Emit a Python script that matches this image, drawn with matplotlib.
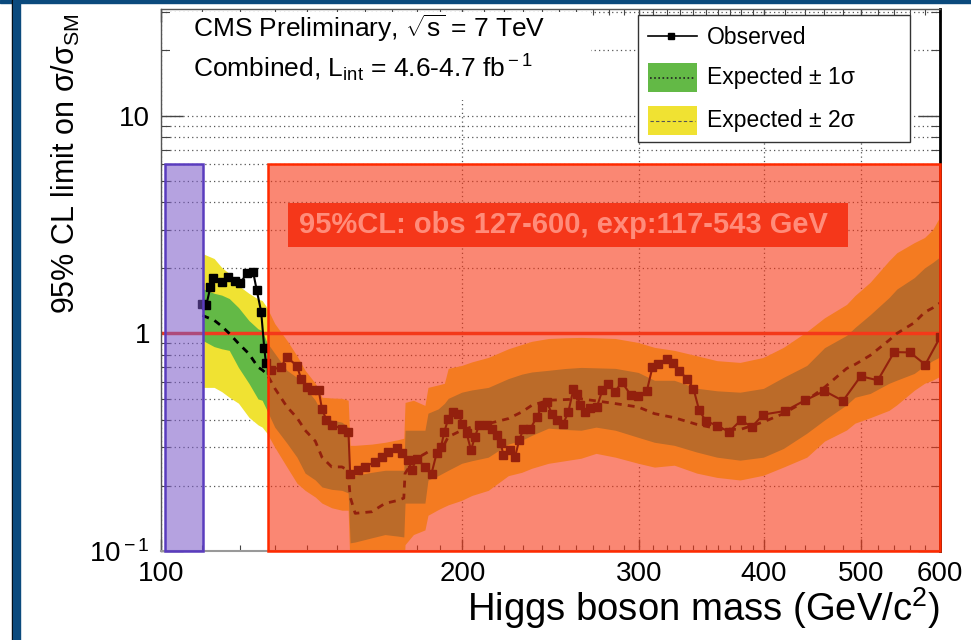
import matplotlib
matplotlib.use("Agg")
import matplotlib.pyplot as plt
from matplotlib.patches import Rectangle
from matplotlib.lines import Line2D
from matplotlib.ticker import FixedLocator, NullFormatter

plt.rcParams['font.family'] = ['Liberation Sans', 'DejaVu Sans']
plt.rcParams['mathtext.fontset'] = 'custom'
plt.rcParams['mathtext.rm'] = 'Liberation Sans'
plt.rcParams['mathtext.it'] = 'Liberation Sans:italic'
plt.rcParams['mathtext.bf'] = 'Liberation Sans:bold'

# observed 95% CL upper limit on sigma/sigma_SM
obs_mass = [110, 111, 112, 112.6, 115, 116.7, 118.5, 120, 121.8, 123.6, 124.6, 125.9,
            126.8, 127.3, 128.8, 131.8, 133.5, 136.7, 138, 139.9, 141.5, 143.7, 144.8,
            146.3, 148.1, 151.6, 153.9, 154.5, 157.4, 160, 163.6, 166.2, 168.7, 172,
            174, 176.6, 178, 180, 183.5, 186.3, 188.5, 190.4, 191.9, 193.6, 195.9, 198.1,
            200, 202, 204, 205.9, 207.8, 211.5, 214, 216.5, 218.5, 219.8, 223.2, 225.8,
            227.9, 230.1, 233.7, 237.3, 240.1, 242.9, 245.7, 248.5, 252.3, 255.2, 258.2,
            260.2, 262.2, 265.2, 268.3, 272.5, 276, 279.9, 284.1, 288.6, 294.8, 299.8,
            305.7, 309.7, 314, 320.1, 325, 329.5, 335.2, 340.3, 344.8, 350.2, 359.6,
            369.4, 379.4, 389.2, 399.7, 420, 440, 460, 480, 500, 520, 540, 560, 580, 600]
obs_limit = [1.37, 1.35, 1.63, 1.79, 1.73, 1.81, 1.75, 1.70, 1.89, 1.92, 1.59, 1.26,
             0.86, 0.73, 0.68, 0.70, 0.78, 0.71, 0.62, 0.57, 0.55, 0.55, 0.45,
             0.40, 0.38, 0.365, 0.353, 0.227, 0.235, 0.244, 0.257, 0.271, 0.286, 0.296,
             0.281, 0.262, 0.235, 0.266, 0.244, 0.227, 0.281, 0.301, 0.353, 0.406, 0.436, 0.428,
             0.385, 0.347, 0.291, 0.335, 0.378, 0.378, 0.365, 0.340, 0.312, 0.276, 0.291, 0.271,
             0.323, 0.362, 0.362, 0.413, 0.459, 0.484, 0.428, 0.399, 0.385, 0.436, 0.553,
             0.525, 0.467, 0.436, 0.452, 0.459, 0.548, 0.584, 0.538, 0.598, 0.519, 0.514,
             0.544, 0.700, 0.726, 0.766, 0.731, 0.671, 0.620, 0.558, 0.443, 0.396, 0.376,
             0.353, 0.399, 0.372, 0.424, 0.440, 0.493, 0.544, 0.490, 0.636, 0.609, 0.821,
             0.818, 0.719, 0.959]

# expected limit with 1 and 2 sigma bands
exp_mass = [110, 113, 115, 117, 119.5, 122.4, 125, 126.2, 127.6, 129.9, 133.6, 136.7,
            139.3, 142.6, 144.8, 148.1, 151.6, 153.8, 154.5, 156.3, 162.4, 167.4, 172.6,
            174.8, 175.3, 178.7, 183.5, 184.8, 189.2, 191.9, 193.6, 199.7, 204.4, 212.3,
            222.3, 229.3, 234.6, 243.8, 253.3, 262.8, 272, 284.3, 299.7, 311.1, 325.6,
            342.9, 359.1, 378.8, 399.7, 418.5, 441.7, 460, 484, 493.4, 511, 533.6, 543.3,
            565.5, 579, 590, 600]
exp_median = [1.21, 1.15, 1.08, 1.00, 0.90, 0.807, 0.70, 0.68, 0.65, 0.56, 0.46, 0.41,
              0.359, 0.32, 0.27, 0.2435, 0.2435, 0.235, 0.1775, 0.149, 0.1515, 0.1655, 0.171,
              0.175, 0.227, 0.2615, 0.28, 0.2855, 0.2905, 0.31, 0.3345, 0.359, 0.372, 0.385,
              0.406, 0.4355, 0.467, 0.493, 0.4965, 0.50, 0.49, 0.476, 0.459, 0.428, 0.41,
              0.382, 0.3655, 0.3616, 0.392, 0.428, 0.493, 0.565, 0.69, 0.72, 0.793, 0.93, 1.0,
              1.12, 1.25, 1.31, 1.38]
exp_lo1 = [0.93, 0.87, 0.85, 0.836, 0.698, 0.59, 0.50, 0.493, 0.443, 0.371, 0.313, 0.27,
           0.228, 0.212, 0.197, 0.192, 0.19, 0.185, 0.109, 0.11, 0.115, 0.119, 0.117,
           0.116, 0.166, 0.166, 0.166, 0.212, 0.222, 0.23, 0.235, 0.253, 0.26, 0.27,
           0.31, 0.323, 0.34, 0.367, 0.362, 0.359, 0.371, 0.359, 0.333, 0.316, 0.306,
           0.285, 0.27, 0.2615, 0.27, 0.296, 0.348, 0.40, 0.47, 0.509, 0.53, 0.59, 0.61,
           0.655, 0.71, 0.75, 0.78]
exp_hi1 = [1.61, 1.53, 1.50, 1.447, 1.316, 1.147, 1.05, 1.03, 0.909, 0.81, 0.677, 0.628,
           0.565, 0.493, 0.43, 0.40, 0.391, 0.371, 0.223, 0.223, 0.23, 0.235, 0.235,
           0.235, 0.359, 0.359, 0.359, 0.43, 0.45, 0.477, 0.503, 0.537, 0.55, 0.565,
           0.62, 0.65, 0.665, 0.677, 0.69, 0.698, 0.695, 0.691, 0.662, 0.609, 0.609,
           0.56, 0.545, 0.537, 0.559, 0.628, 0.713, 0.86, 0.98, 1.065, 1.22, 1.462, 1.6,
           1.806, 2.0, 2.12, 2.25]
exp_lo2 = [0.565, 0.565, 0.54, 0.509, 0.478, 0.412, 0.38, 0.371, 0.348, 0.30, 0.243, 0.205,
           0.19, 0.177, 0.166, 0.158, 0.154, 0.154, 0.08, 0.08, 0.08, 0.08, 0.08,
           0.08, 0.107, 0.119, 0.125, 0.146, 0.155, 0.16, 0.163, 0.171, 0.18, 0.19,
           0.222, 0.23, 0.24, 0.253, 0.26, 0.267, 0.281, 0.27, 0.253, 0.243, 0.248,
           0.228, 0.218, 0.212, 0.223, 0.243, 0.27, 0.32, 0.36, 0.387, 0.41, 0.443, 0.47,
           0.548, 0.59, 0.61, 0.635]
exp_hi2 = [2.33, 2.21, 2.01, 1.885, 1.66, 1.53, 1.44, 1.417, 1.316, 1.11, 0.929, 0.79,
           0.677, 0.59, 0.509, 0.505, 0.503, 0.493, 0.306, 0.306, 0.31, 0.316, 0.325,
           0.33, 0.482, 0.493, 0.467, 0.565, 0.58, 0.59, 0.691, 0.713, 0.74, 0.776,
           0.85, 0.89, 0.92, 0.948, 0.955, 0.959, 0.955, 0.948, 0.909, 0.863, 0.836,
           0.79, 0.75, 0.736, 0.776, 0.863, 1.02, 1.18, 1.36, 1.494, 1.72, 2.16, 2.35,
           2.615, 2.76, 3.0, 3.45]

# excluded mass ranges drawn as boxes
low_box = [100.9, 110.1]
excl_box = [127.8, 600]
box_top = 6.0

x_ticks = [100, 200, 300, 400, 500, 600]
x_minor = list(range(110, 200, 10)) + list(range(210, 300, 10)) + \
    list(range(310, 400, 10)) + list(range(420, 500, 20)) + list(range(520, 600, 20))
y_minor = [0.2, 0.3, 0.4, 0.5, 0.6, 0.7, 0.8, 0.9, 2, 3, 4, 5, 6, 7, 8, 9, 20, 30]

fig = plt.figure(figsize=(9.71, 6.40), dpi=100)
fig.patch.set_facecolor('white')
ax = fig.add_axes([161 / 971, 1 - 551 / 640, 779 / 971, 542 / 640])
ax.set_xscale('log')
ax.set_yscale('log')
ax.set_xlim(100, 600)
ax.set_ylim(0.1, 31)

# slide frame
fig.patches.append(Rectangle((0, 1 - 3 / 640), 1, 3 / 640, transform=fig.transFigure,
                             color='#0b4a7d', zorder=0))
fig.patches.append(Rectangle((11.5 / 971, 0), 1.5 / 971, 1, transform=fig.transFigure,
                             color='black', zorder=0))
fig.patches.append(Rectangle((13 / 971, 0), 7 / 971, 1, transform=fig.transFigure,
                             color='#0b4a7d', zorder=0))

# bands
ax.fill_between(exp_mass, exp_lo2, exp_hi2, color='#f0e232', lw=0, zorder=1)
ax.fill_between(exp_mass, exp_lo1, exp_hi1, color='#63b946', lw=0, zorder=1.1)
ax.axhline(1, color='#f03c1e', lw=2.5, zorder=2)
ax.plot(exp_mass, exp_median, color='black', lw=2.0, ls=(0, (2.5, 2.2)), zorder=3)
ax.plot(obs_mass, obs_limit, color='black', lw=1.5, marker='s', ms=5.5, zorder=4)

# shaded mass ranges
ax.add_patch(Rectangle((low_box[0], 0.1), low_box[1] - low_box[0], box_top - 0.1,
                       facecolor=(0.47, 0.34, 0.78), alpha=0.55, lw=0, zorder=5))
ax.add_patch(Rectangle((low_box[0], 0.1), low_box[1] - low_box[0], box_top - 0.1,
                       fill=False, edgecolor='#5a3cbe', lw=1.8, zorder=5.1, clip_on=False))
ax.add_patch(Rectangle((excl_box[0], 0.1), excl_box[1] - excl_box[0], box_top - 0.1,
                       facecolor=(0.97, 0.215, 0.085), alpha=0.6, lw=0, zorder=6))
ax.add_patch(Rectangle((excl_box[0], 0.1), excl_box[1] - excl_box[0], box_top - 0.1,
                       fill=False, edgecolor='#ff2a00', lw=1.8, zorder=6.1, clip_on=False))

ax.add_patch(Rectangle((0.163, 0.561), 0.719, 0.081, transform=ax.transAxes,
                       facecolor='#f5371a', lw=0, zorder=7))
ax.text(0.5165, 0.6015, '95%CL: obs 127-600, exp:117-543 GeV', transform=ax.transAxes,
        ha='center', va='center', fontsize=21, fontweight='bold', color='#ff8c7a', zorder=7.1)

# grid and axes
ax.set_axisbelow(True)
ax.xaxis.grid(True, which='major', color='#555555', lw=0.9, ls=(0, (1, 2.5)))
ax.yaxis.grid(True, which='both', color='#555555', lw=0.9, ls=(0, (1, 2.5)))

ax.xaxis.set_major_locator(FixedLocator(x_ticks))
ax.xaxis.set_minor_locator(FixedLocator(x_minor))
ax.xaxis.set_minor_formatter(NullFormatter())
ax.set_xticklabels([str(t) for t in x_ticks])
ax.yaxis.set_major_locator(FixedLocator([0.1, 1, 10]))
ax.yaxis.set_minor_locator(FixedLocator(y_minor))
ax.yaxis.set_minor_formatter(NullFormatter())
ax.set_yticklabels(['10$^{\\rm -1}$', '1', '10'])

ax.tick_params(axis='both', which='both', direction='in', top=True, right=True,
               colors='#444444', labelcolor='black', labelsize=20)
ax.tick_params(axis='x', which='major', length=9, width=1, pad=7)
ax.tick_params(axis='x', which='minor', length=4.5, width=0.8)
ax.tick_params(axis='y', which='major', length=16, width=1, pad=8)
ax.tick_params(axis='y', which='minor', length=6.5, width=0.8)

for side in ['left', 'top']:
    ax.spines[side].set_color('#555555')
    ax.spines[side].set_linewidth(1.0)
ax.spines['bottom'].set_color('#999999')
ax.spines['bottom'].set_linewidth(1.5)
ax.spines['right'].set_color('black')
ax.spines['right'].set_linewidth(2.0)

fig.text(940 / 971, 1 - 621 / 640, 'Higgs boson mass (GeV/c$^{2}$)', ha='right',
         va='baseline', fontsize=27.5)
fig.text(66 / 971, 1 - 314 / 640, '95% CL limit on σ/σ$_{\\rm SM}$', rotation=90,
         ha='center', va='bottom', fontsize=22)

# header text on a white pave
ax.add_patch(Rectangle((0.0116, 0.832), 0.54, 0.162, transform=ax.transAxes,
                       facecolor='white', lw=0, zorder=8))
ax.text(0.041, 0.948, 'CMS Preliminary, $\\sqrt{\\rm s}$ = 7 TeV', transform=ax.transAxes,
        ha='left', va='baseline', fontsize=19, zorder=8.1)
ax.text(0.041, 0.8745, 'Combined, L$_{\\rm int}$ = 4.6-4.7 fb$^{\\rm -1}$',
        transform=ax.transAxes, ha='left', va='baseline', fontsize=19, zorder=8.1)

# legend box
ax.add_patch(Rectangle((0.612, 0.7546), 0.3495, 0.2344, transform=ax.transAxes,
                       facecolor='white', edgecolor='#333333', lw=1.0, zorder=9))
ax.add_line(Line2D([0.625, 0.688], [0.950, 0.950], transform=ax.transAxes, color='black',
                   lw=1.2, zorder=9.1))
ax.add_line(Line2D([0.6547], [0.950], transform=ax.transAxes, color='black', marker='s',
                   ms=5, zorder=9.2))
ax.add_patch(Rectangle((0.625, 0.847), 0.063, 0.053, transform=ax.transAxes,
                       facecolor='#63b946', lw=0, zorder=9.1))
ax.add_line(Line2D([0.628, 0.686], [0.8735, 0.8735], transform=ax.transAxes, color='#222222',
                   lw=1.2, ls=(0, (1, 1.5)), zorder=9.2))
ax.add_patch(Rectangle((0.625, 0.7675), 0.063, 0.0535, transform=ax.transAxes,
                       facecolor='#f0e232', lw=0, zorder=9.1))
ax.add_line(Line2D([0.628, 0.686], [0.794, 0.794], transform=ax.transAxes, color='#555555',
                   lw=0.8, ls=(0, (3, 2)), zorder=9.2))
for ytxt, label in [(0.9465, 'Observed'), (0.8745, 'Expected ± 1σ'), (0.795, 'Expected ± 2σ')]:
    ax.text(0.7005, ytxt, label, transform=ax.transAxes, ha='left', va='center',
            fontsize=16.5, zorder=9.3)

fig.savefig('out.png', dpi=100)
